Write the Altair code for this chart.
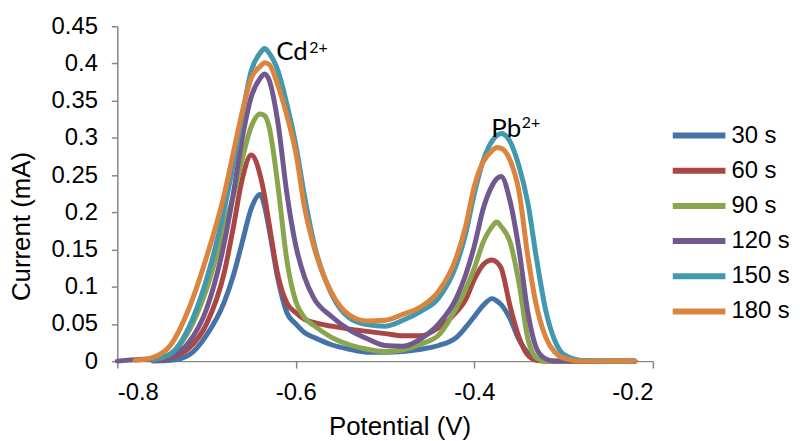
import altair as alt
import pandas as pd

potential = [-0.80, -0.78, -0.76, -0.74, -0.72, -0.70, -0.68, -0.67, -0.66, -0.65,
             -0.64, -0.635, -0.63, -0.62, -0.61, -0.60, -0.59, -0.58, -0.56, -0.54,
             -0.52, -0.50, -0.48, -0.46, -0.44, -0.42, -0.41, -0.40, -0.39, -0.38,
             -0.375, -0.37, -0.36, -0.35, -0.34, -0.33, -0.32, -0.31, -0.30, -0.28,
             -0.25, -0.22]

series_names = ["30 s", "60 s", "90 s", "120 s", "150 s", "180 s"]
series_colors = ["#4572A7", "#AA4643", "#89A54E", "#71588F", "#4198AF", "#DB843D"]

# None = no reading recorded at that potential
cur_30 = [None, None, 0, 0.001, 0.008, 0.035, 0.080, 0.115, 0.160, 0.205,
          0.224, 0.208, 0.178, 0.110, 0.065, 0.050, 0.038, 0.032, 0.022, 0.016,
          0.012, 0.012, 0.013, 0.016, 0.021, 0.032, 0.045, 0.060, 0.075, 0.084,
          0.081, 0.076, 0.057, 0.029, 0.011, 0.002, 0, 0, 0, 0,
          0, 0]
cur_60 = [None, None, 0.001, 0.005, 0.017, 0.050, 0.120, 0.180, 0.245, 0.277,
          0.250, 0.222, 0.185, 0.115, 0.078, 0.065, 0.056, 0.052, 0.047, 0.043,
          0.040, 0.037, 0.034, 0.034, 0.045, 0.066, 0.082, 0.110, 0.130, 0.136,
          0.133, 0.125, 0.074, 0.032, 0.008, 0.001, 0, 0, 0, 0,
          0, 0]
cur_90 = [None, None, 0.002, 0.010, 0.040, 0.097, 0.180, 0.222, 0.272, 0.315,
          0.332, 0.330, 0.315, 0.235, 0.135, 0.080, 0.058, 0.048, 0.032, 0.022,
          0.016, 0.013, 0.015, 0.023, 0.035, 0.072, 0.096, 0.125, 0.160, 0.181,
          0.187, 0.181, 0.160, 0.105, 0.030, 0.004, 0, 0, 0, 0,
          0, 0]
cur_120 = [0, 0.002, 0.003, 0.007, 0.025, 0.070, 0.160, 0.225, 0.300, 0.355,
           0.380, 0.386, 0.378, 0.320, 0.225, 0.155, 0.112, 0.085, 0.060, 0.042,
           0.030, 0.021, 0.020, 0.030, 0.050, 0.085, 0.115, 0.155, 0.205, 0.236,
           0.245, 0.248, 0.215, 0.150, 0.065, 0.016, 0.003, 0, 0, 0,
           0, 0]
cur_150 = [None, None, 0.002, 0.010, 0.045, 0.110, 0.205, 0.265, 0.330, 0.390,
           0.414, 0.420, 0.414, 0.390, 0.345, 0.290, 0.220, 0.160, 0.090, 0.058,
           0.049, 0.047, 0.055, 0.067, 0.085, 0.130, 0.170, 0.225, 0.270, 0.296,
           0.303, 0.306, 0.295, 0.262, 0.212, 0.135, 0.068, 0.028, 0.009, 0.001,
           0, 0]
cur_180 = [None, 0.001, 0.005, 0.022, 0.070, 0.140, 0.225, 0.280, 0.335, 0.380,
           0.396, 0.401, 0.399, 0.370, 0.330, 0.280, 0.205, 0.155, 0.092, 0.062,
           0.054, 0.055, 0.063, 0.073, 0.094, 0.140, 0.180, 0.235, 0.268, 0.283,
           0.287, 0.286, 0.270, 0.228, 0.140, 0.072, 0.032, 0.012, 0.004, 0,
           0, 0]

x_ticks = [-0.8, -0.6, -0.4, -0.2]
y_ticks = [0, 0.05, 0.1, 0.15, 0.2, 0.25, 0.3, 0.35, 0.4, 0.45]

ann_text = ["Cd", "2+", "Pb", "2+"]
ann_x = [-0.622, -0.585, -0.381, -0.347]
ann_y = [0.404, 0.414, 0.301, 0.313]
ann_size = [26, 16, 26, 16]

rows = []
all_series = [cur_30, cur_60, cur_90, cur_120, cur_150, cur_180]
for name, vals in zip(series_names, all_series):
    for p, v in zip(potential, vals):
        if v is None:
            continue
        rows.append({"Potential": p, "Current": v, "Series": name})
df = pd.DataFrame(rows)

ann_df = pd.DataFrame({"Potential": ann_x, "Current": ann_y,
                       "text": ann_text, "size": ann_size})

FONT = "Liberation Sans"

x_scale = alt.Scale(domain=[-0.8, -0.2], nice=False, zero=False)
y_scale = alt.Scale(domain=[0, 0.45], nice=False, zero=True)

x_axis = alt.Axis(values=x_ticks, title="Potential (V)",
                  labelExpr="toString(datum.value)", labelOverlap=False,
                  grid=False, tickSize=7, labelPadding=13,
                  labelFontSize=24, labelFont=FONT, labelColor="#000000",
                  titleFontSize=26, titleFont=FONT, titleFontWeight="normal",
                  titleColor="#000000", titleX=284, titleY=74,
                  titleBaseline="alphabetic", titleAlign="center",
                  domainColor="#868686", tickColor="#868686",
                  domainWidth=1.5, tickWidth=1.5)
y_axis = alt.Axis(values=y_ticks, title="Current (mA)",
                  labelExpr="toString(datum.value)", labelOverlap=False,
                  grid=False, tickSize=6, labelPadding=14,
                  labelFontSize=24, labelFont=FONT, labelColor="#000000",
                  titleFontSize=26, titleFont=FONT, titleFontWeight="normal",
                  titleColor="#000000", titleX=-96, titleY=201,
                  titleAngle=270, titleBaseline="middle", titleAlign="center",
                  domainColor="#868686", tickColor="#868686",
                  domainWidth=1.5, tickWidth=1.5)

lines = alt.Chart(df).mark_line(strokeWidth=5, interpolate="monotone",
                                strokeCap="round", strokeJoin="round").encode(
    x=alt.X("Potential:Q", scale=x_scale, axis=x_axis),
    y=alt.Y("Current:Q", scale=y_scale, axis=y_axis),
    color=alt.Color("Series:N", sort=series_names,
                    scale=alt.Scale(domain=series_names, range=series_colors),
                    legend=alt.Legend(orient="none", legendX=556, legendY=98,
                                      title=None, symbolType="stroke",
                                      symbolSize=2809, symbolStrokeWidth=6,
                                      clipHeight=24,
                                      labelFontSize=24, labelFont=FONT,
                                      labelColor="#000000", labelOffset=3,
                                      rowPadding=11.4)),
    order=alt.Order("Potential:Q"),
)

labels = alt.Chart(ann_df).mark_text(align="left", baseline="alphabetic",
                                     font="Lato", color="#000000").encode(
    x=alt.X("Potential:Q", scale=x_scale, axis=x_axis),
    y=alt.Y("Current:Q", scale=y_scale, axis=y_axis),
    text="text:N",
    size=alt.Size("size:Q", scale=None, legend=None),
)

chart = alt.layer(lines, labels).properties(
    width=539, height=337,
    padding={"left": 110, "top": 17, "right": 140, "bottom": 79},
    autosize=alt.AutoSizeParams(type="none"),
).configure_view(stroke=None).configure_axis(labelOverlap=False)

chart.save("out.html", embed_options={"renderer": "svg", "actions": False})
